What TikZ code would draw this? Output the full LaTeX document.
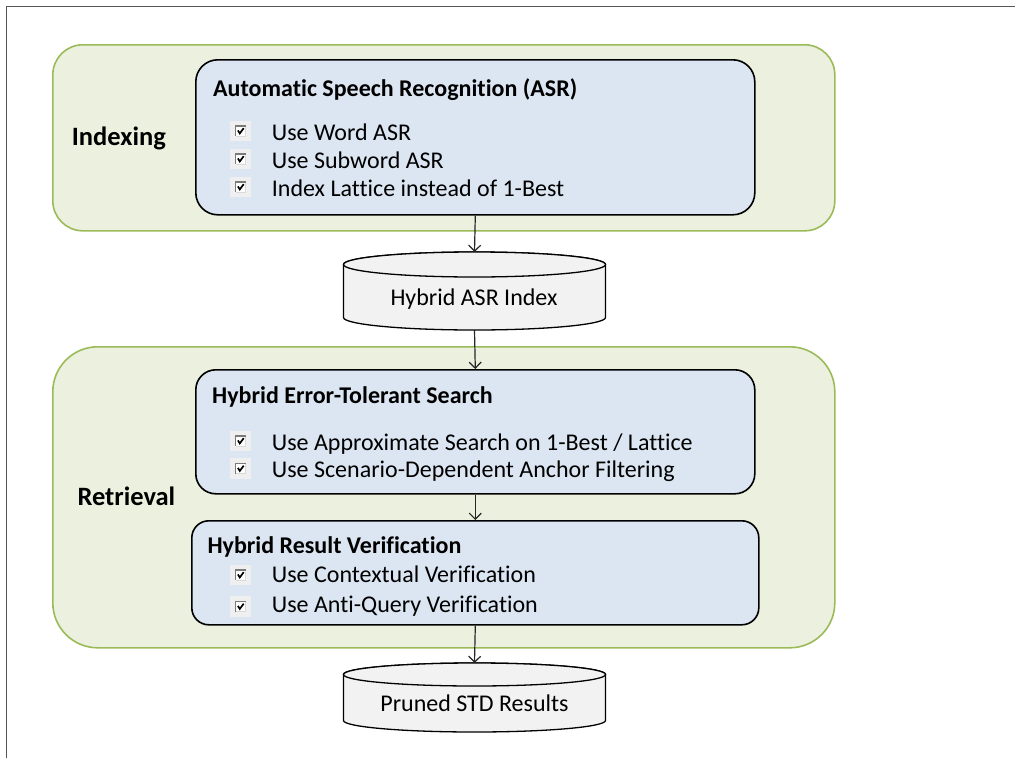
\documentclass[tikz,border=0pt]{standalone}
\usepackage{fontspec}
\setmainfont[Ligatures=NoCommon]{Carlito}
\usetikzlibrary{arrows.meta}

\definecolor{grpfill}{HTML}{EBF1DE}
\definecolor{grpline}{HTML}{9BBB59}
\definecolor{boxfill}{HTML}{DCE6F2}
\definecolor{dbfill}{HTML}{F2F2F2}
\definecolor{framegray}{HTML}{555555}
\definecolor{cbbg}{HTML}{EFEFEF}
\definecolor{cbdark}{HTML}{7A7A7A}
\definecolor{cblight}{HTML}{D8D8D8}

% database cylinder drawn around an invisible rectangle node
% #1 = node name, #2 = half width, #3 = half height of the end ellipses
\newcommand\drawdb[3]{%
  \path[draw=black, line width=1.3pt, fill=dbfill]
    ([yshift=-#3]#1.north west) -- ([yshift=#3]#1.south west)
    arc[start angle=180, end angle=360, x radius=#2, y radius=#3]
    -- ([yshift=-#3]#1.north east)
    arc[start angle=0, end angle=180, x radius=#2, y radius=#3]
    -- cycle;
  \path[draw=black, line width=1.3pt, fill=dbfill]
    ([yshift=-#3]#1.north) ellipse[x radius=#2, y radius=#3];
}

\begin{document}
\begin{tikzpicture}[x=1pt, y=-1pt,
  body/.style={font=\fontsize{24}{28}\selectfont, inner sep=0pt, anchor=base west},
  head/.style={font=\fontsize{24}{28}\selectfont\bfseries, inner sep=0pt, anchor=base west},
  stage/.style={font=\fontsize{26.5}{30}\selectfont\bfseries, inner sep=0pt, anchor=base west},
  group/.style={draw=grpline, fill=grpfill, line width=1.6pt, rounded corners=#1,
                inner sep=0pt, anchor=north west},
  stepbox/.style={draw=black, fill=boxfill, line width=1.6pt, rounded corners=#1,
                  inner sep=0pt, anchor=north west},
  dbnode/.style={inner sep=0pt, outer sep=0pt},
  chk/.style={minimum size=20.5pt, inner sep=0pt, fill=cbbg,
    path picture={
      \begin{scope}[shift={(path picture bounding box.center)}]
        \fill[white] (-5.5pt,-5.5pt) rectangle (5.5pt,5.5pt);
        \draw[cblight, line width=1pt] (-5pt,-5pt) -- (5pt,-5pt) -- (5pt,5pt);
        \draw[cbdark, line width=1.4pt] (-5pt,-5pt) -- (-5pt,5pt) -- (5pt,5pt);
        \draw[black, line width=1.7pt] (-2.8pt,0.6pt) -- (-0.9pt,-2.4pt) -- (3pt,2.8pt);
      \end{scope}}},
  flow/.style={draw=black!85, line width=1.2pt,
               -{Straight Barb[length=6pt,width=12pt,line width=1.2pt]}},
]
\useasboundingbox (0,0) rectangle (1015,758);

% page frame (top and left edges)
\draw[framegray, line width=1.8pt] (6.5,758) -- (6.5,6.5) -- (1015,6.5);

% ---------------- Indexing stage ----------------
\node[group=30pt, minimum width=782pt, minimum height=186pt] (gidx) at (52,44) {};
\node[stage] (lidx) at (71.7,145.7) {Indexing};

\node[stepbox=22pt, minimum width=559pt, minimum height=155pt] (asr) at (195,59) {};
\node[head] (hasr) at (213,96.7) {Automatic Speech Recognition (ASR)};
\node[chk] (c1) at (240.7,131) {};
\node[body] (t1) at (271.7,140) {Use Word ASR};
\node[chk] (c2) at (240.7,159) {};
\node[body] (t2) at (271.7,168) {Use Subword ASR};
\node[chk] (c3) at (240.7,187) {};
\node[body] (t3) at (271.7,196) {Index Lattice instead of 1-Best};

% ---------------- index database ----------------
\node[dbnode, minimum width=262pt, minimum height=78pt] (idx) at (474.5,291) {};
\drawdb{idx}{131pt}{12.5pt}
\node[body, anchor=base] (tidx) at (474,305) {Hybrid ASR Index};

% ---------------- Retrieval stage ----------------
\node[group=45pt, minimum width=782pt, minimum height=301pt] (gret) at (52,346) {};
\node[stage] (lret) at (77.3,505.7) {Retrieval};

\node[stepbox=20pt, minimum width=559pt, minimum height=124pt] (hets) at (195,369) {};
\node[head] (hhets) at (212,403) {Hybrid Error-Tolerant Search};
\node[chk] (c4) at (240.7,441) {};
\node[body] (t4) at (271.7,450) {Use Approximate Search on 1-Best / Lattice};
\node[chk] (c5) at (240.7,468.5) {};
\node[body] (t5) at (271.7,477) {Use Scenario-Dependent Anchor Filtering};

\node[stepbox=17pt, minimum width=567pt, minimum height=104pt] (hrv) at (191,520) {};
\node[head] (hhrv) at (207.3,553.3) {Hybrid Result Verification};
\node[chk] (c6) at (240.7,575) {};
\node[body] (t6) at (271.7,582.5) {Use Contextual Verification};
\node[chk] (c7) at (240.7,606.5) {};
\node[body] (t7) at (271.7,612) {Use Anti-Query Verification};

% ---------------- results database ----------------
\node[dbnode, minimum width=262pt, minimum height=69pt] (res) at (474.5,697.5) {};
\drawdb{res}{131pt}{11.5pt}
\node[body, anchor=base] (tres) at (474.5,711.7) {Pruned STD Results};

% ---------------- flow ----------------
\draw[flow] (asr.south) -- (idx.north);
\draw[flow] (idx.south) -- (hets.north);
\draw[flow] (hets.south) -- (hrv.north);
\draw[flow] (hrv.south) -- (res.north);
\end{tikzpicture}
\end{document}
